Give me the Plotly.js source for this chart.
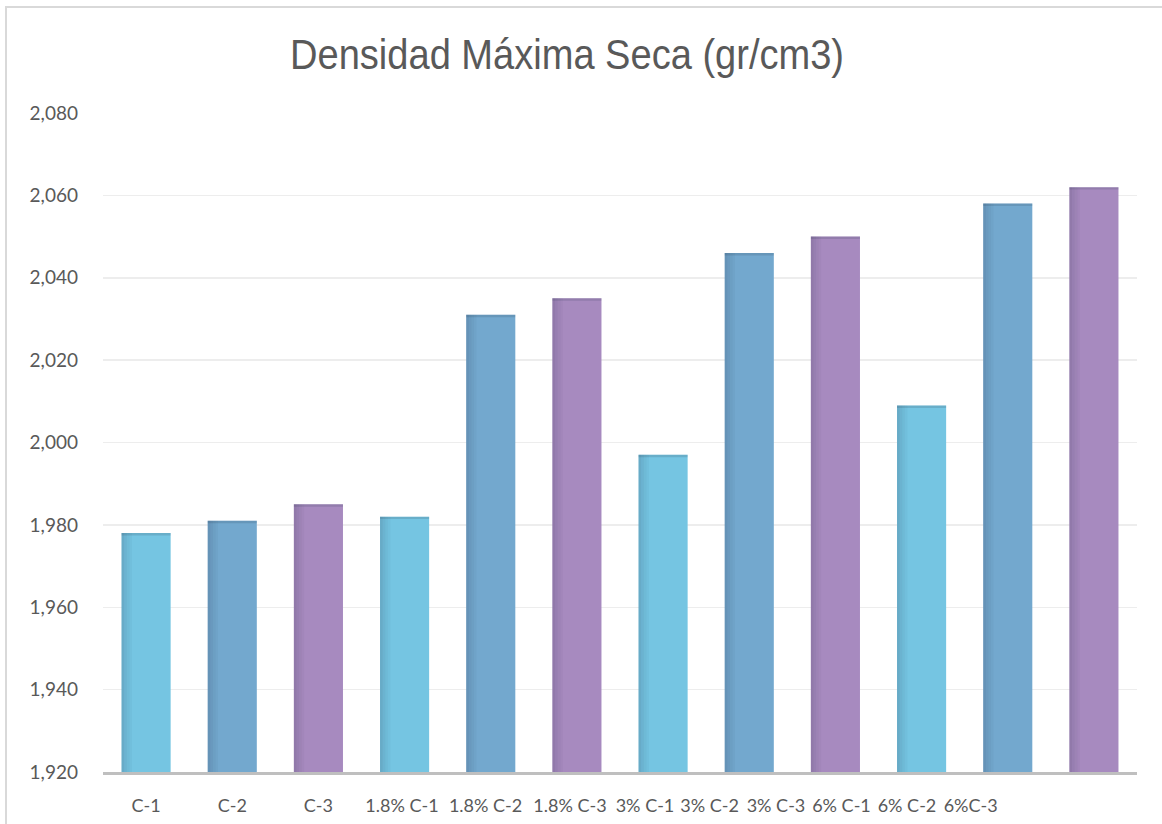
<!DOCTYPE html>
<html>
<head>
<meta charset="utf-8">
<script src="https://cdn.plot.ly/plotly-3.0.1.min.js"></script>
<style>
  html, body { margin: 0; padding: 0; background: #ffffff; overflow: hidden; }
  #wrap { position: relative; width: 1162px; height: 824px; }
  #chart { position: absolute; left: 0; top: 0; width: 1162px; height: 824px; }
  #frame { position: absolute; left: 5px; top: 6px; right: -20px; bottom: -20px;
           border: 2px solid #D9D9D9; pointer-events: none; }
</style>
</head>
<body>
<div id="wrap">
  <div id="chart"></div>
  <div id="frame"></div>
</div>
<script>
// Sample labels (mix percentage + specimen)
const categories = ["C-1", "C-2", "C-3",
                    "1.8% C-1", "1.8% C-2", "1.8% C-3",
                    "3% C-1", "3% C-2", "3% C-3",
                    "6% C-1", "6% C-2", "6%C-3"];
// Maximum dry density, gr/cm3 (x1000)
const densidad = [1978, 1981, 1985,
                  1982, 2031, 2035,
                  1997, 2046, 2050,
                  2009, 2058, 2062];
// Specimen of each sample (C-1 / C-2 / C-3)
const specimen = ["C-1", "C-2", "C-3", "C-1", "C-2", "C-3",
                  "C-1", "C-2", "C-3", "C-1", "C-2", "C-3"];
const yTicks = [1920, 1940, 1960, 1980, 2000, 2020, 2040, 2060, 2080];
const yTickText = ["1,920", "1,940", "1,960", "1,980", "2,000", "2,020", "2,040", "2,060", "2,080"];

const specimenColor = { "C-1": "#75C5E2", "C-2": "#73A8CE", "C-3": "#A78ABF" };
const BAR_W = 0.57;

const traces = [{
  type: "bar",
  x: categories,
  y: densidad,
  width: BAR_W,
  marker: { color: specimen.map(s => specimenColor[s]), line: { width: 0 } },
  hovertemplate: "%{x}: %{y}<extra></extra>"
}];

// soft bevel: darker strips along the left side of each bar
const shade = [0.16, 0.11, 0.07, 0.035];
const stripW = 0.03;
shade.forEach((a, i) => {
  traces.push({
    type: "bar",
    x: categories,
    y: densidad,
    width: stripW,
    offset: -BAR_W / 2 + i * stripW,
    marker: { color: "rgba(30,40,60," + a + ")", line: { width: 0 } },
    hoverinfo: "skip",
    showlegend: false
  });
});

// thin darker cap along the top of each bar
const capH = 0.6;
traces.push({
  type: "bar",
  x: categories,
  y: densidad.map(() => capH),
  base: densidad.map(v => v - capH),
  width: BAR_W,
  marker: { color: "rgba(40,55,75,0.16)", line: { width: 0 } },
  hoverinfo: "skip",
  showlegend: false
});

// label slots along the axis (in category units)
const labelPos = [0, 1, 2, 2.97, 3.94, 4.92, 5.79, 6.54, 7.31, 8.07, 8.83, 9.57];

const TITLE_X = 0.488;

const layout = {
  width: 1162,
  height: 824,
  paper_bgcolor: "#ffffff",
  plot_bgcolor: "#ffffff",
  barmode: "overlay",
  showlegend: false,
  margin: { l: 103, r: 25, t: 113, b: 52 },
  font: { family: "Lato, 'Open Sans', sans-serif", color: "#595959", size: 18 },
  title: {
    text: "Densidad Máxima Seca (gr/cm3)",
    font: { family: "'Liberation Sans', Arial, sans-serif", size: 43, color: "#595959" },
    x: TITLE_X, xref: "container", xanchor: "center",
    y: 0.935, yref: "container", yanchor: "middle"
  },
  xaxis: {
    type: "category",
    range: [-0.5, 11.5],
    tickmode: "array",
    tickvals: labelPos,
    ticktext: categories,
    tickangle: 0,
    ticks: "",
    showgrid: false,
    zeroline: false,
    showline: true,
    linecolor: "#BFBFBF",
    linewidth: 3,
    ticklabelstandoff: 15,
    tickfont: { size: 18, color: "#595959" },
    fixedrange: true
  },
  yaxis: {
    range: [1920, 2080],
    tickmode: "array",
    tickvals: yTicks,
    ticktext: yTickText,
    ticks: "",
    showgrid: true,
    gridcolor: "#EDEDED",
    gridwidth: 1.5,
    zeroline: false,
    showline: false,
    ticklabelstandoff: 24,
    tickfont: { size: 19, color: "#595959" },
    fixedrange: true
  }
};

Plotly.newPlot("chart", traces, layout, { displayModeBar: false, staticPlot: true }).then(gd => {
  // condensed title lettering: squeeze horizontally about its centre
  const t = gd.querySelector(".gtitle");
  if (t) {
    const sx = 0.885;
    const cx = TITLE_X * layout.width;
    t.setAttribute("transform", "matrix(" + sx + ",0,0,1," + (cx * (1 - sx)) + ",0)");
  }
});
</script>
</body>
</html>
